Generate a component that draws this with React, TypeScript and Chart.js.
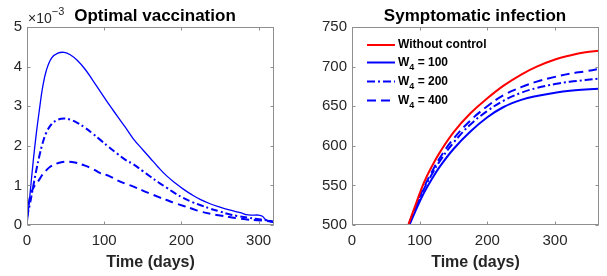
import React, { useEffect, useRef } from "react";
import { Chart, registerables } from "chart.js";
Chart.register(...registerables);

// ---------- Data: Optimal vaccination (values in units of 1e-3) ----------
const vacDaysW100 = [0, 4, 8, 12, 16, 20, 25, 32, 40, 48, 56, 65, 75, 85, 95, 106, 117, 128, 138, 150, 160, 170, 181, 192, 203, 214, 225, 238, 250, 262, 272, 280, 284, 292, 300, 305, 309, 314, 320];
const vacW100 = [0, 0.8, 1.6, 2.3, 2.9, 3.45, 3.9, 4.22, 4.34, 4.36, 4.3, 4.16, 3.94, 3.66, 3.37, 3.05, 2.75, 2.45, 2.17, 1.9, 1.68, 1.46, 1.24, 1.06, 0.9, 0.76, 0.64, 0.53, 0.45, 0.38, 0.33, 0.29, 0.26, 0.25, 0.25, 0.22, 0.14, 0.11, 0.08];
const vacDaysW200 = [0, 4, 8, 12, 16, 20, 25, 32, 40, 48, 56, 65, 75, 85, 95, 106, 117, 128, 138, 150, 160, 170, 181, 192, 203, 214, 225, 238, 250, 262, 272, 285, 298, 310, 320];
const vacW200 = [0.2, 0.55, 0.97, 1.38, 1.74, 2.05, 2.33, 2.55, 2.66, 2.69, 2.66, 2.58, 2.46, 2.31, 2.15, 1.97, 1.8, 1.64, 1.53, 1.36, 1.22, 1.08, 0.94, 0.8, 0.68, 0.58, 0.5, 0.41, 0.34, 0.27, 0.23, 0.19, 0.15, 0.12, 0.08];
const vacDaysW400 = [0, 3, 6, 10, 15, 20, 25, 30, 38, 46, 54, 62, 72, 84, 95, 106, 117, 128, 138, 150, 160, 170, 181, 192, 203, 214, 225, 238, 250, 262, 272, 285, 298, 310, 320];
const vacW400 = [0.18, 0.63, 0.84, 1.0, 1.12, 1.27, 1.38, 1.47, 1.55, 1.59, 1.6, 1.58, 1.52, 1.43, 1.31, 1.24, 1.13, 1.04, 0.97, 0.87, 0.79, 0.71, 0.63, 0.55, 0.48, 0.41, 0.34, 0.28, 0.24, 0.2, 0.17, 0.14, 0.12, 0.1, 0.07];
const vacYTicks = [0, 1, 2, 3, 4, 5];

// ---------- Data: Symptomatic infection ----------
const infDays = [70, 84, 95, 106, 118, 130, 150, 175, 200, 224, 250, 273, 300, 322, 345, 365];
const infNoControl = [468, 502, 528, 553, 574, 592, 617, 641, 660, 676, 690, 700, 709, 714, 718, 720];
const infW100 = [465, 498, 520, 540, 558, 574, 596, 618, 636, 649, 658, 663, 667, 669.5, 671, 672];
const infW200 = [467, 500, 523, 545, 564, 581, 604, 627, 644, 657, 667, 673, 678, 681, 683, 685];
const infW400 = [468, 501, 525, 547, 567, 585, 609, 632, 650, 664, 674, 681, 687, 691, 694, 697];
const infLabels = ["Without control", "W_4 = 100", "W_4 = 200", "W_4 = 400"];
const infYTicks = [500, 550, 600, 650, 700, 750];

const xTicks = [0, 100, 200, 300];

const vacTitle = "Optimal vaccination";
const infTitle = "Symptomatic infection";
const xAxisTitle = "Time (days)";
const vacExponent = "-3";

const FONT = "'Liberation Sans', Arial, Helvetica, sans-serif";
const TICK_COLOR = "#262626";
const BLUE = "#0000ff";
const RED = "#ff0000";

const toXY = (xs: number[], ys: number[]) => xs.map((x, i) => ({ x, y: ys[i] }));

const framePlugin = {
  id: "frame",
  afterDatasetsDraw(chart: any) {
    const { ctx, chartArea: a, scales } = chart;
    ctx.save();
    ctx.strokeStyle = "#8f8f8f";
    ctx.lineWidth = 1;
    const l = Math.round(a.left) + 0.5;
    const r = Math.round(a.right) - 0.5;
    const t = Math.round(a.top) + 0.5;
    const b = Math.round(a.bottom) - 0.5;
    ctx.strokeRect(l, t, r - l, b - t);
    const tl = 3;
    ctx.beginPath();
    scales.x.ticks.forEach((tk: any) => {
      const px = Math.round(scales.x.getPixelForValue(tk.value)) + 0.5;
      ctx.moveTo(px, b);
      ctx.lineTo(px, b - tl);
      ctx.moveTo(px, t);
      ctx.lineTo(px, t + tl);
    });
    scales.y.ticks.forEach((tk: any) => {
      const py = Math.round(scales.y.getPixelForValue(tk.value)) + 0.5;
      ctx.moveTo(l, py);
      ctx.lineTo(l + tl, py);
      ctx.moveTo(r, py);
      ctx.lineTo(r - tl, py);
    });
    ctx.stroke();
    ctx.restore();
  },
};

const drawSubText = (ctx: any, text: string, x: number, y: number, size: number) => {
  const parts = text.split("_");
  ctx.textBaseline = "middle";
  ctx.textAlign = "left";
  if (parts.length === 1) {
    ctx.font = `bold ${size}px ${FONT}`;
    ctx.fillText(text, x, y);
    return;
  }
  const main = parts[0];
  const sub = parts[1].charAt(0);
  const rest = parts[1].slice(1);
  ctx.font = `bold ${size}px ${FONT}`;
  ctx.fillText(main, x, y);
  let cx = x + ctx.measureText(main).width;
  ctx.font = `bold ${Math.round(size * 0.72)}px ${FONT}`;
  ctx.fillText(sub, cx, y + 5);
  cx += ctx.measureText(sub).width;
  ctx.font = `bold ${size}px ${FONT}`;
  ctx.fillText(rest, cx, y);
};

const overlayPlugin = {
  id: "overlay",
  afterDraw(chart: any, _args: any, opts: any) {
    const { ctx, chartArea: a } = chart;
    ctx.save();
    ctx.fillStyle = "#000";
    ctx.font = `bold 17px ${FONT}`;
    ctx.textAlign = "center";
    ctx.textBaseline = "alphabetic";
    ctx.fillText(opts.title, opts.titleX, 21);
    if (opts.exponent) {
      ctx.fillStyle = TICK_COLOR;
      ctx.textAlign = "left";
      ctx.font = `14px ${FONT}`;
      ctx.fillText("\u00d710", a.left + 1, 23);
      const w = ctx.measureText("\u00d710").width;
      ctx.font = `11px ${FONT}`;
      ctx.fillText(opts.exponent.replace("-", "\u2212"), a.left + 1 + w, 15);
    }
    if (opts.legend) {
      const rows = [45, 62.5, 81.5, 100.5];
      chart.data.datasets.forEach((ds: any, i: number) => {
        const y = rows[i];
        ctx.strokeStyle = ds.borderColor;
        ctx.lineWidth = 2;
        ctx.setLineDash(ds.borderDash || []);
        ctx.beginPath();
        ctx.moveTo(a.left + 15, y);
        ctx.lineTo(a.left + 43, y);
        ctx.stroke();
        ctx.setLineDash([]);
        ctx.fillStyle = "#000";
        drawSubText(ctx, ds.label, a.left + 46, y, 12);
      });
    }
    ctx.restore();
  },
};

function baseScales(xMax: number, yMin: number, yMax: number, yTicks: number[], yWidth: number) {
  return {
    x: {
      type: "linear",
      min: 0,
      max: xMax,
      afterFit: (s: any) => {
        s.height = 51;
      },
      afterBuildTicks: (s: any) => {
        s.ticks = xTicks.map((v) => ({ value: v }));
      },
      ticks: { color: TICK_COLOR, font: { size: 15, family: FONT }, padding: 7, maxRotation: 0, autoSkip: false },
      grid: { display: false, drawTicks: false },
      border: { display: false },
      title: {
        display: true,
        text: xAxisTitle,
        color: TICK_COLOR,
        font: { size: 16, weight: "bold", family: FONT },
        padding: { top: 0, bottom: 4 },
      },
    },
    y: {
      type: "linear",
      min: yMin,
      max: yMax,
      afterFit: (s: any) => {
        s.width = yWidth;
      },
      afterBuildTicks: (s: any) => {
        s.ticks = yTicks.map((v) => ({ value: v }));
      },
      ticks: { color: TICK_COLOR, font: { size: 15, family: FONT }, padding: 5, autoSkip: false },
      grid: { display: false, drawTicks: false },
      border: { display: false },
    },
  };
}

const lineElements = { point: { radius: 0 }, line: { tension: 0.4, fill: false, capBezierPoints: true } };

function VaccinationChart() {
  const ref = useRef<HTMLCanvasElement | null>(null);
  useEffect(() => {
    const chart = new Chart(ref.current as HTMLCanvasElement, {
      type: "line",
      data: {
        datasets: [
          { label: "W_4 = 100", data: toXY(vacDaysW100, vacW100), borderColor: BLUE, borderWidth: 1.3, borderDash: [] },
          { label: "W_4 = 200", data: toXY(vacDaysW200, vacW200), borderColor: BLUE, borderWidth: 2, borderDash: [7, 3, 2, 3] },
          { label: "W_4 = 400", data: toXY(vacDaysW400, vacW400), borderColor: BLUE, borderWidth: 2, borderDash: [8, 5] },
        ],
      } as any,
      options: {
        responsive: false,
        animation: false,
        devicePixelRatio: 1,
        parsing: false,
        layout: { padding: { top: 27, right: 26, left: 0, bottom: 0 } },
        elements: lineElements,
        plugins: {
          legend: { display: false },
          tooltip: { enabled: false },
          title: { display: false },
          overlay: { title: vacTitle, titleX: 155, exponent: vacExponent, legend: false },
        } as any,
        scales: baseScales(320, 0, 5, vacYTicks, 27) as any,
      },
      plugins: [framePlugin, overlayPlugin],
    });
    return () => chart.destroy();
  }, []);
  return <canvas ref={ref} width={300} height={276} style={{ display: "block" }} />;
}

function InfectionChart() {
  const ref = useRef<HTMLCanvasElement | null>(null);
  useEffect(() => {
    const chart = new Chart(ref.current as HTMLCanvasElement, {
      type: "line",
      data: {
        datasets: [
          { label: infLabels[0], data: toXY(infDays, infNoControl), borderColor: RED, borderWidth: 2, borderDash: [] },
          { label: infLabels[1], data: toXY(infDays, infW100), borderColor: BLUE, borderWidth: 2, borderDash: [] },
          { label: infLabels[2], data: toXY(infDays, infW200), borderColor: BLUE, borderWidth: 2, borderDash: [8, 3, 2, 3] },
          { label: infLabels[3], data: toXY(infDays, infW400), borderColor: BLUE, borderWidth: 2, borderDash: [9, 5] },
        ],
      } as any,
      options: {
        responsive: false,
        animation: false,
        devicePixelRatio: 1,
        parsing: false,
        layout: { padding: { top: 27, right: 8, left: 0, bottom: 0 } },
        elements: lineElements,
        plugins: {
          legend: { display: false },
          tooltip: { enabled: false },
          title: { display: false },
          overlay: { title: infTitle, titleX: 175, exponent: null, legend: true },
        } as any,
        scales: baseScales(365, 500, 750, infYTicks, 52) as any,
      },
      plugins: [framePlugin, overlayPlugin],
    });
    return () => chart.destroy();
  }, []);
  return <canvas ref={ref} width={307} height={276} style={{ display: "block" }} />;
}

export default function App() {
  return (
    <div style={{ position: "fixed", left: 0, top: 0, width: 607, height: 276, background: "#fff", display: "flex" }}>
      <VaccinationChart />
      <InfectionChart />
    </div>
  );
}
